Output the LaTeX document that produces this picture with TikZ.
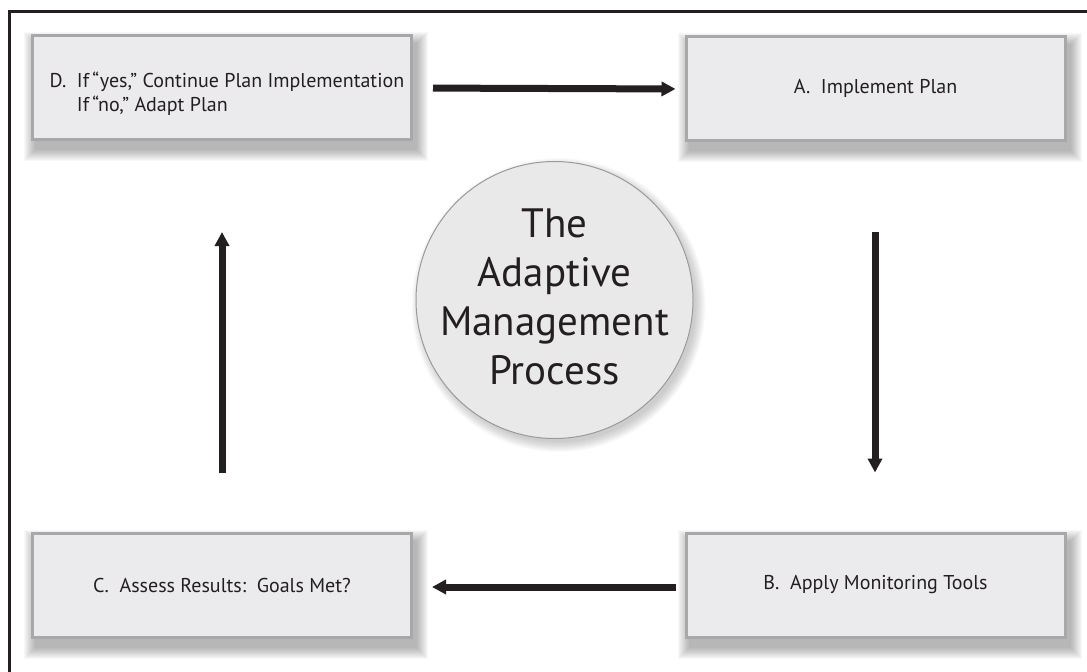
\documentclass[tikz,border=0pt]{standalone}
\usepackage{fontspec}
\setmainfont{PT Sans}
\usetikzlibrary{arrows.meta}
\pgfdeclarelayer{background}
\pgfsetlayers{background,main}

\definecolor{boxfill}{HTML}{EBEBED}
\definecolor{boxline}{HTML}{A8A8AA}
\definecolor{discfill}{HTML}{E9E9EA}
\definecolor{discline}{HTML}{9A9A9C}
\definecolor{ink}{HTML}{231F20}

\tikzset{
  stepbox/.style={draw=boxline, line width=3pt, fill=boxfill,
    minimum width=379pt, minimum height=104pt, inner sep=0pt,
    font=\fontsize{20}{24}\selectfont, text=ink},
  disc/.style={circle, draw=discline, line width=1pt, fill=discfill,
    minimum size=277pt, inner sep=0pt},
  flow/.style={draw=ink, line width=7pt,
    -{Triangle[length=14pt,width=14pt]}},
}

\begin{document}
\begin{tikzpicture}[x=1pt,y=-1pt]
\useasboundingbox (0,0) rectangle (1087,672);
\begin{scope}
  \clip (0,0) rectangle (1087,672);
  % outer frame, running past the right and bottom edges
  \draw[ink, line width=2.5pt] (9.5,11.5) rectangle (1100,690);
\end{scope}

% process steps
\node[stepbox] (D) at (222,87.5) {};
\node[anchor=west, align=left, font=\fontsize{20}{24}\selectfont, text=ink]
  (Dtext) at (46,94) {D.\ \ If\,“yes,” Continue Plan Implementation\\
  \phantom{D.\ \ }If\,“no,” Adapt Plan};
\node[stepbox] (A) at (875.5,88) {A.\ \ Implement Plan};
\node[stepbox] (B) at (875.5,585) {B.\ \ Apply Monitoring Tools};
\node[stepbox] (C) at (222,585) {C.\ \ Assess Results:\ \ Goals Met?};

% central title disc
\node[disc] (P) at (554.5,300) {};
\node[align=center, font=\fontsize{41}{49}\selectfont, text=ink] (Ptext)
  at (554.5,297) {The\\Adaptive\\Management\\Process};

% soft drop shadows, falling to the lower right
\begin{pgfonlayer}{background}
  \foreach \n in {A,B,C,D}{
    \foreach \e in {11,10,...,0}{
      \fill[black, opacity=0.028]
        ([shift={(4-\e,9+\e)}]\n.south west) rectangle
        ([shift={(4+\e,9-\e)}]\n.north east);
    }
  }
  \foreach \e in {10,9,...,0}{
    \fill[black, opacity=0.018] ([shift={(4,5)}]P.center) circle (137+\e);
  }
\end{pgfonlayer}

% cycle connectors
\draw[flow, shorten <=20pt, shorten >=9pt] ([yshift=-0.5pt]D.east) -- ([yshift=-1pt]A.west);
\draw[flow, shorten <=90pt, shorten >=59pt] ([xshift=-0.5pt]A.south) -- ([xshift=-0.5pt]B.north);
\draw[flow, shorten <=9pt, shorten >=19pt] ([yshift=-2pt]B.west) -- ([yshift=-2pt]C.east);
\draw[flow, shorten <=59pt, shorten >=91pt] (C.north) -- (D.south);
\end{tikzpicture}
\end{document}
